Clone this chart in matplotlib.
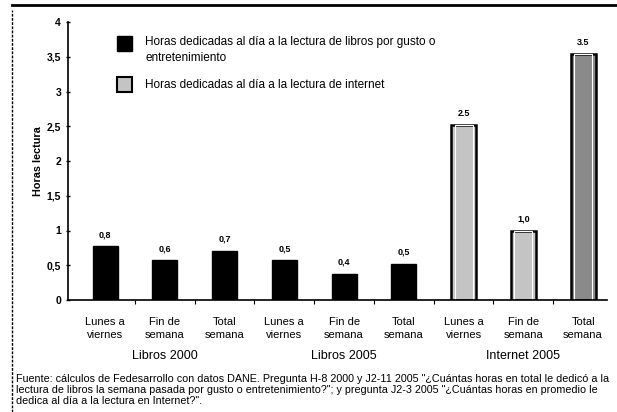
import matplotlib
matplotlib.use("Agg")
import matplotlib.pyplot as plt
from matplotlib.patches import Rectangle
from matplotlib.lines import Line2D

plt.rcParams['font.family'] = ['Liberation Sans', 'DejaVu Sans']

categories = ["Lunes a\nviernes", "Fin de\nsemana", "Total\nsemana"] * 3
groups = ["Libros 2000", "Libros 2005", "Internet 2005"]
values = [0.77, 0.57, 0.71, 0.57, 0.38, 0.52, 2.52, 1.0, 3.54]
value_labels = ["0,8", "0,6", "0,7", "0,5", "0,4", "0,5", "2.5", "1,0", "3.5"]
series = ["libros"] * 6 + ["internet"] * 3
yticks = [0, 0.5, 1, 1.5, 2, 2.5, 3, 3.5, 4]
ytick_labels = ["0", "0,5", "1", "1,5", "2", "2,5", "3", "3,5", "4"]
legend_labels = ["Horas dedicadas al día a la lectura de libros por gusto o\nentretenimiento",
                 "Horas dedicadas al día a la lectura de internet"]
source = ("Fuente: cálculos de Fedesarrollo con datos DANE. Pregunta H-8 2000 y J2-11 2005 \"¿Cuántas horas en total le dedicó a la\n"
          "lectura de libros la semana pasada por gusto o entretenimiento?\"; y pregunta J2-3 2005 \"¿Cuántas horas en promedio le\n"
          "dedica al día a la lectura en Internet?\".")

fig = plt.figure(figsize=(6.17, 4.12), dpi=100)
ax = fig.add_axes([68/617, 1-300/412, (607-68)/617, (300-22)/412])

x = list(range(len(values)))
for xi, v, s in zip(x, values, series):
    if s == "libros":
        ax.bar(xi, v, width=0.42, color="black", edgecolor="black", linewidth=1)
    else:
        fc = "#8a8a8a" if v > 3 else "#c4c4c4"
        ax.bar(xi, v, width=0.42, color=fc, edgecolor="black", linewidth=1.8)
        ax.bar(xi, v, width=0.30, color="none", edgecolor="white", linewidth=0.8)
for xi, v, lab in zip(x, values, value_labels):
    ax.text(xi, v + 0.1, lab, ha="center", va="bottom", fontsize=6.5, fontweight="bold")

ax.set_xlim(-0.62, 8.4)
ax.set_ylim(0, 4)
ax.set_yticks(yticks)
ax.set_yticklabels(ytick_labels, fontsize=7.5, fontweight="bold")
ax.set_xticks(x)
ax.set_xticklabels(categories, fontsize=8, linespacing=1.4)
ax.tick_params(axis="x", length=0, pad=12)
ax.tick_params(axis="y", length=3, width=1, direction="inout")
ax.set_xticks([i + 0.5 for i in range(8)], minor=True)
ax.tick_params(axis="x", which="minor", length=3, width=0.8)
for sp in ["top", "right"]:
    ax.spines[sp].set_visible(False)
ax.spines["left"].set_linewidth(1.2)
ax.spines["bottom"].set_linewidth(1.2)
ax.set_ylabel("Horas lectura", fontsize=7.8, fontweight="bold", labelpad=3)

for gi, g in enumerate(groups):
    ax.text(gi * 3 + 1, -0.8, g, ha="center", va="center", fontsize=9,
            transform=ax.transData)

# legend
fig.patches.append(Rectangle((117/617, 1-51/412), 15/617, 15/412, transform=fig.transFigure,
                             facecolor="black", edgecolor="black", lw=1))
fig.patches.append(Rectangle((117/617, 1-92/412), 15/617, 15/412, transform=fig.transFigure,
                             facecolor="#c4c4c4", edgecolor="black", lw=1.5))
fig.text(145/617, 1-36/412, legend_labels[0], fontsize=8.5, va="top", linespacing=1.45)
fig.text(145/617, 1-79/412, legend_labels[1], fontsize=8.5, va="top")

fig.text(16/617, 1-374/412, source, fontsize=7.75, va="top", linespacing=1.15)

# frame lines
fig.add_artist(Line2D([12/617, 1], [1-5/412, 1-5/412], transform=fig.transFigure, color="black", lw=2))
fig.add_artist(Line2D([12/617, 12/617], [0, 1-10/412], transform=fig.transFigure, color="black", lw=1, ls=(0, (2, 1))))

fig.savefig("out.png", dpi=100)
